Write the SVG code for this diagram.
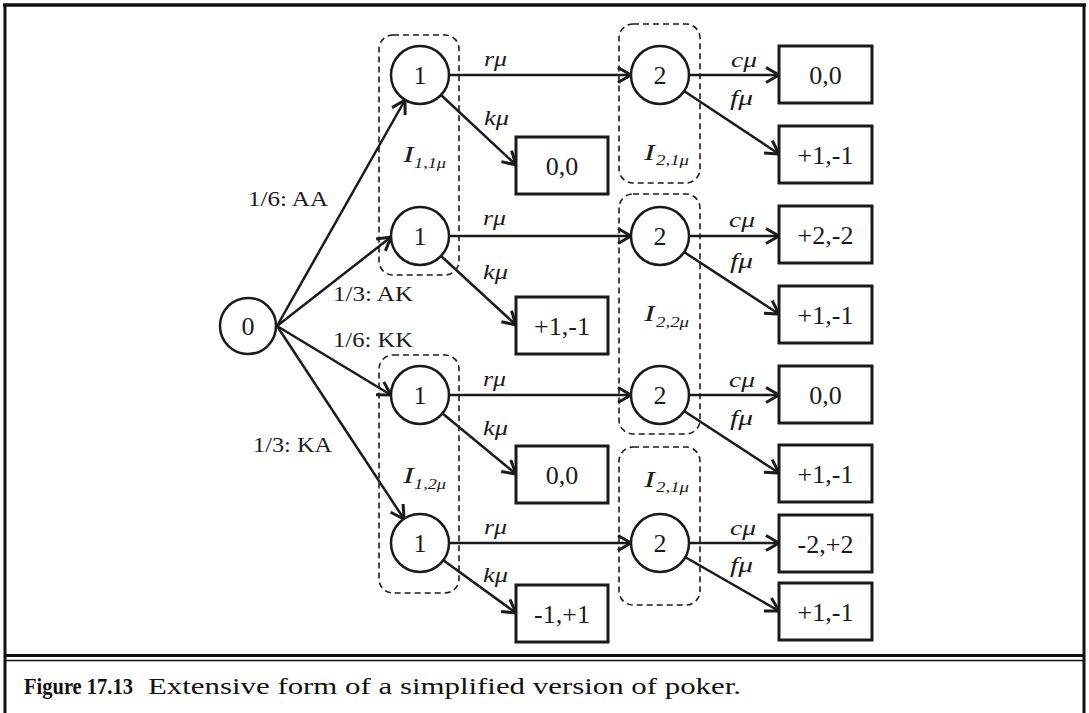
<svg xmlns="http://www.w3.org/2000/svg" width="1089" height="713" viewBox="0 0 1089 713">
<style>
.frame{fill:none;stroke:#111;}
.node circle{fill:#fff;stroke:#1a1a1a;stroke-width:2.5;}
.node rect{fill:#fff;stroke:#1a1a1a;stroke-width:3;}
.num{font-family:"Liberation Serif",serif;font-size:26px;fill:#1a1a1a;text-anchor:middle;}
.iset rect{fill:none;stroke:#1a1a1a;stroke-width:1.6;stroke-dasharray:6 4;}
.iI{font-family:"Liberation Serif",serif;font-style:italic;font-size:24px;fill:#1a1a1a;}
.iS{font-family:"Liberation Serif",serif;font-style:italic;font-size:15px;fill:#1a1a1a;}
.edges line{stroke:#1a1a1a;stroke-width:2.5;marker-end:url(#ah);}
.el{font-family:"Liberation Serif",serif;font-style:italic;font-size:22px;fill:#1a1a1a;}
.pl{font-family:"Liberation Serif",serif;font-size:21px;fill:#1a1a1a;}
.cap{font-family:"Liberation Serif",serif;font-size:23px;fill:#111;}
</style>
<defs>
<marker id="ah" viewBox="-16 -10 19 20" refX="0" refY="0" markerWidth="19" markerHeight="20" markerUnits="userSpaceOnUse" orient="auto">
<path d="M-13,-7.5 L0,0 L-13,7.5" fill="none" stroke="#1a1a1a" stroke-width="3" stroke-linejoin="miter"/>
</marker>
</defs>
<rect width="1089" height="713" fill="#fff"/>
<g id="frame">
<line class="frame" x1="3" y1="5" x2="1086" y2="5" stroke-width="3.5"/>
<line class="frame" x1="5" y1="4" x2="5" y2="713" stroke-width="3"/>
<line class="frame" x1="1084" y1="4" x2="1084" y2="713" stroke-width="3"/>
<line class="frame" x1="5" y1="655.5" x2="1084" y2="655.5" stroke-width="3"/>
<line class="frame" x1="5" y1="660.5" x2="1084" y2="660.5" stroke-width="1.5"/>
</g>
<g id="infosets" class="iset">
<g id="I11"><rect x="379" y="35" width="80" height="240" rx="14"/><text class="iI" x="403" y="162" textLength="11" lengthAdjust="spacingAndGlyphs">I</text><text class="iS" x="414" y="168" textLength="32" lengthAdjust="spacingAndGlyphs">1,1μ</text></g>
<g id="I12"><rect x="379" y="355" width="80" height="238" rx="14"/><text class="iI" x="403" y="483" textLength="11" lengthAdjust="spacingAndGlyphs">I</text><text class="iS" x="414" y="489" textLength="32" lengthAdjust="spacingAndGlyphs">1,2μ</text></g>
<g id="I21a"><rect x="619" y="24" width="81" height="159" rx="14"/><text class="iI" x="644" y="160" textLength="11" lengthAdjust="spacingAndGlyphs">I</text><text class="iS" x="656" y="165" textLength="33" lengthAdjust="spacingAndGlyphs">2,1μ</text></g>
<g id="I22"><rect x="619" y="194" width="81" height="240" rx="14"/><text class="iI" x="644" y="321" textLength="11" lengthAdjust="spacingAndGlyphs">I</text><text class="iS" x="656" y="327" textLength="33" lengthAdjust="spacingAndGlyphs">2,2μ</text></g>
<g id="I21b"><rect x="619" y="447" width="81" height="158" rx="14"/><text class="iI" x="644" y="487" textLength="11" lengthAdjust="spacingAndGlyphs">I</text><text class="iS" x="656" y="492" textLength="33" lengthAdjust="spacingAndGlyphs">2,1μ</text></g>
</g>
<g id="connectors" class="edges">
<line x1="277" y1="326" x2="405" y2="100"/>
<line x1="277" y1="326" x2="391" y2="237"/>
<line x1="277" y1="326" x2="391" y2="395"/>
<line x1="277" y1="326" x2="404" y2="519"/>
<line x1="449" y1="75" x2="631" y2="75"/>
<line x1="449" y1="236" x2="631" y2="236"/>
<line x1="449" y1="395" x2="631" y2="395"/>
<line x1="449" y1="543" x2="631" y2="543"/>
<line x1="441" y1="95" x2="516" y2="165"/>
<line x1="441" y1="256" x2="516" y2="325"/>
<line x1="442" y1="413" x2="516" y2="474"/>
<line x1="443" y1="560" x2="516" y2="613"/>
<line x1="689" y1="75" x2="779" y2="75"/>
<line x1="689" y1="236" x2="779" y2="236"/>
<line x1="689" y1="395" x2="779" y2="395"/>
<line x1="689" y1="543" x2="779" y2="543"/>
<line x1="684" y1="91" x2="779" y2="154"/>
<line x1="684" y1="252" x2="779" y2="314"/>
<line x1="684" y1="411" x2="779" y2="473"/>
<line x1="685" y1="557" x2="779" y2="611"/>
</g>
<g id="edge-labels">
<text class="pl" x="248" y="206" textLength="80" lengthAdjust="spacingAndGlyphs">1/6: AA</text>
<text class="pl" x="333" y="301" textLength="80" lengthAdjust="spacingAndGlyphs">1/3: AK</text>
<text class="pl" x="333" y="347" textLength="80" lengthAdjust="spacingAndGlyphs">1/6: KK</text>
<text class="pl" x="253" y="452" textLength="79" lengthAdjust="spacingAndGlyphs">1/3: KA</text>
<text class="el" x="484" y="66" textLength="23" lengthAdjust="spacingAndGlyphs">rμ</text>
<text class="el" x="484" y="125" textLength="25" lengthAdjust="spacingAndGlyphs">kμ</text>
<text class="el" x="731" y="67" textLength="26" lengthAdjust="spacingAndGlyphs">cμ</text>
<text class="el" x="730" y="105" textLength="23" lengthAdjust="spacingAndGlyphs">fμ</text>
<text class="el" x="483" y="225" textLength="23" lengthAdjust="spacingAndGlyphs">rμ</text>
<text class="el" x="483" y="279" textLength="25" lengthAdjust="spacingAndGlyphs">kμ</text>
<text class="el" x="729" y="227" textLength="26" lengthAdjust="spacingAndGlyphs">cμ</text>
<text class="el" x="730" y="268" textLength="23" lengthAdjust="spacingAndGlyphs">fμ</text>
<text class="el" x="483" y="386" textLength="23" lengthAdjust="spacingAndGlyphs">rμ</text>
<text class="el" x="483" y="435" textLength="25" lengthAdjust="spacingAndGlyphs">kμ</text>
<text class="el" x="729" y="387" textLength="26" lengthAdjust="spacingAndGlyphs">cμ</text>
<text class="el" x="730" y="425" textLength="23" lengthAdjust="spacingAndGlyphs">fμ</text>
<text class="el" x="484" y="534" textLength="23" lengthAdjust="spacingAndGlyphs">rμ</text>
<text class="el" x="483" y="582" textLength="25" lengthAdjust="spacingAndGlyphs">kμ</text>
<text class="el" x="730" y="535" textLength="26" lengthAdjust="spacingAndGlyphs">cμ</text>
<text class="el" x="730" y="572" textLength="23" lengthAdjust="spacingAndGlyphs">fμ</text>
</g>
<g id="n0" class="node"><circle cx="248" cy="326" r="28"/><text class="num" x="248" y="335">0</text></g>
<g id="n1a" class="node"><circle cx="420" cy="75" r="29"/><text class="num" x="420" y="84">1</text></g>
<g id="n1b" class="node"><circle cx="420" cy="236" r="29"/><text class="num" x="420" y="245">1</text></g>
<g id="n1c" class="node"><circle cx="420" cy="395" r="29"/><text class="num" x="420" y="404">1</text></g>
<g id="n1d" class="node"><circle cx="420" cy="543" r="29"/><text class="num" x="420" y="552">1</text></g>
<g id="n2a" class="node"><circle cx="660" cy="75" r="29"/><text class="num" x="660" y="84">2</text></g>
<g id="n2b" class="node"><circle cx="660" cy="236" r="29"/><text class="num" x="660" y="245">2</text></g>
<g id="n2c" class="node"><circle cx="660" cy="395" r="29"/><text class="num" x="660" y="404">2</text></g>
<g id="n2d" class="node"><circle cx="660" cy="543" r="29"/><text class="num" x="660" y="552">2</text></g>
<g id="tka" class="node"><rect x="516" y="137" width="92" height="57"/><text class="num" x="562" y="175">0,0</text></g>
<g id="tkb" class="node"><rect x="516" y="297" width="92" height="57"/><text class="num" x="562" y="335">+1,-1</text></g>
<g id="tkc" class="node"><rect x="516" y="446" width="92" height="57"/><text class="num" x="562" y="484">0,0</text></g>
<g id="tkd" class="node"><rect x="516" y="585" width="92" height="57"/><text class="num" x="562" y="623">-1,+1</text></g>
<g id="tca" class="node"><rect x="779" y="46" width="93" height="57"/><text class="num" x="825.5" y="84">0,0</text></g>
<g id="tfa" class="node"><rect x="779" y="126" width="93" height="57"/><text class="num" x="825.5" y="164">+1,-1</text></g>
<g id="tcb" class="node"><rect x="779" y="206" width="93" height="57"/><text class="num" x="825.5" y="244">+2,-2</text></g>
<g id="tfb" class="node"><rect x="779" y="286" width="93" height="57"/><text class="num" x="825.5" y="324">+1,-1</text></g>
<g id="tcc" class="node"><rect x="779" y="366" width="93" height="57"/><text class="num" x="825.5" y="404">0,0</text></g>
<g id="tfc" class="node"><rect x="779" y="445" width="93" height="57"/><text class="num" x="825.5" y="483">+1,-1</text></g>
<g id="tcd" class="node"><rect x="779" y="515" width="93" height="57"/><text class="num" x="825.5" y="553">-2,+2</text></g>
<g id="tfd" class="node"><rect x="779" y="583" width="93" height="57"/><text class="num" x="825.5" y="621">+1,-1</text></g>
<g id="caption">
<text class="cap" x="24" y="694" font-weight="bold" textLength="109" lengthAdjust="spacingAndGlyphs">Figure 17.13</text>
<text class="cap" x="148" y="694" textLength="593" lengthAdjust="spacingAndGlyphs">Extensive form of a simplified version of poker.</text>
</g>
</svg>
